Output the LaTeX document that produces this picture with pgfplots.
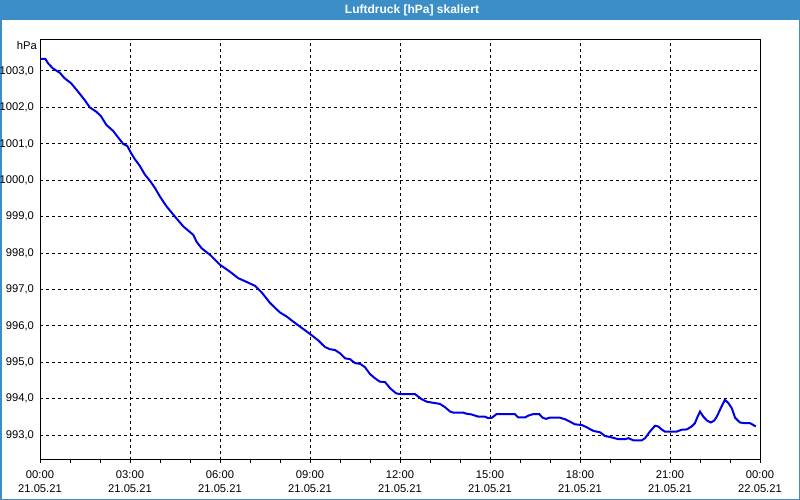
\documentclass[border=0pt]{standalone}
\usepackage{pgfplots}
\pgfplotsset{compat=1.18}
\usepackage{fontspec}
\setmainfont{Liberation Sans}
\definecolor{titleblue}{RGB}{60,143,198}
\definecolor{curveblue}{RGB}{0,0,228}
\begin{document}
\begin{tikzpicture}[font=\fontsize{11.2bp}{14.5bp}\selectfont]
\useasboundingbox (0bp,0bp) rectangle (800bp,500bp);
\fill[white] (0bp,0bp) rectangle (800bp,500bp);
\fill[titleblue] (0bp,480bp) rectangle (800bp,500bp);
\draw[titleblue, line width=1.5bp] (0.75bp,480bp) -- (0.75bp,0.75bp) -- (799.25bp,0.75bp) -- (799.25bp,480bp);
\node[white, font=\fontsize{12bp}{13bp}\selectfont\bfseries] at (412bp,490bp) {Luftdruck [hPa] skaliert};
\node[anchor=east, inner sep=0pt] at (37bp,454bp) {hPa};
\begin{axis}[
  at={(40bp,40bp)}, anchor=south west,
  scale only axis, width=720bp, height=420bp,
  xmin=0, xmax=24, ymin=992.32, ymax=1003.85,
  axis line style={line width=1bp, black},
  xtick={0,3,...,24},
  minor xtick={1,2,4,5,7,8,10,11,13,14,16,17,19,20,22,23},
  xticklabels={{00:00\\21.05.21},{03:00\\21.05.21},{06:00\\21.05.21},{09:00\\21.05.21},{12:00\\21.05.21},{15:00\\21.05.21},{18:00\\21.05.21},{21:00\\21.05.21},{00:00\\22.05.21}},
  ytick={993,994,...,1003},
  xtick pos=lower, ytick pos=left,
  tick align=outside,
  major tick length=3bp, minor tick length=3bp,
  xtick style={black, line width=1bp},
  ytick style={draw=none},
  xmajorgrids, ymajorgrids,
  major grid style={black, line width=1bp, dash pattern=on 3bp off 3bp},
  tick label style={font=\fontsize{11.2bp}{14.5bp}\selectfont},
  xticklabel style={align=center, yshift=-4bp},
  yticklabel style={xshift=0.5bp, /pgf/number format/.cd, fixed, fixed zerofill, precision=1, use comma, 1000 sep={}, assume math mode=true},
  scaled y ticks=false,
]
\addplot[curveblue, line width=2bp] coordinates {
(0.02,1003.33) (0.18,1003.33) (0.27,1003.21) (0.43,1003.07) (0.66,1002.95) (0.82,1002.80)
(1.04,1002.66) (1.27,1002.43) (1.49,1002.20) (1.66,1002.00) (1.88,1001.88) (2.04,1001.75)
(2.21,1001.52) (2.43,1001.36) (2.60,1001.18) (2.77,1001.00) (2.91,1000.94) (3.04,1000.74)
(3.16,1000.58) (3.33,1000.39) (3.50,1000.15) (3.67,999.98) (3.83,999.79) (4.00,999.55)
(4.22,999.28) (4.50,999.00) (4.78,998.73) (5.11,998.50) (5.22,998.31) (5.39,998.13)
(5.67,997.95) (6.00,997.68) (6.33,997.49) (6.61,997.31) (6.83,997.23) (7.17,997.10)
(7.40,996.91) (7.67,996.63) (7.87,996.47) (8.00,996.37) (8.22,996.26) (8.44,996.12)
(8.67,995.98) (9.00,995.78) (9.28,995.60) (9.50,995.42) (9.67,995.36) (9.83,995.34)
(10.00,995.25) (10.17,995.11) (10.33,995.09) (10.50,994.98) (10.67,994.96) (10.83,994.87)
(11.00,994.68) (11.17,994.56) (11.33,994.47) (11.50,994.46) (11.67,994.29) (11.87,994.15)
(12.00,994.13) (12.50,994.13) (12.61,994.06) (12.72,993.99) (12.89,993.92) (13.11,993.89)
(13.33,993.86) (13.50,993.77) (13.67,993.65) (13.78,993.62) (14.11,993.62) (14.22,993.59)
(14.39,993.57) (14.61,993.51) (14.83,993.51) (14.94,993.47) (15.06,993.48) (15.22,993.58)
(15.83,993.58) (15.94,993.49) (16.17,993.49) (16.28,993.54) (16.44,993.58) (16.64,993.58)
(16.76,993.48) (16.87,993.45) (16.98,993.48) (17.33,993.48) (17.50,993.44) (17.67,993.37)
(17.83,993.30) (18.06,993.28) (18.22,993.22) (18.44,993.12) (18.67,993.08) (18.83,992.98)
(19.06,992.94) (19.28,992.89) (19.50,992.89) (19.61,992.92) (19.78,992.86) (20.06,992.86)
(20.17,992.92) (20.33,993.10) (20.50,993.26) (20.61,993.24) (20.72,993.16) (20.83,993.10)
(21.22,993.10) (21.39,993.15) (21.56,993.16) (21.72,993.24) (21.83,993.33) (21.91,993.49)
(22.00,993.65) (22.11,993.51) (22.24,993.40) (22.36,993.35) (22.47,993.40) (22.56,993.51)
(22.69,993.74) (22.83,993.97) (22.94,993.89) (23.06,993.74) (23.17,993.48) (23.33,993.35)
(23.50,993.33) (23.67,993.33) (23.78,993.28) (23.86,993.24)
};
\end{axis}
\end{tikzpicture}
\end{document}
